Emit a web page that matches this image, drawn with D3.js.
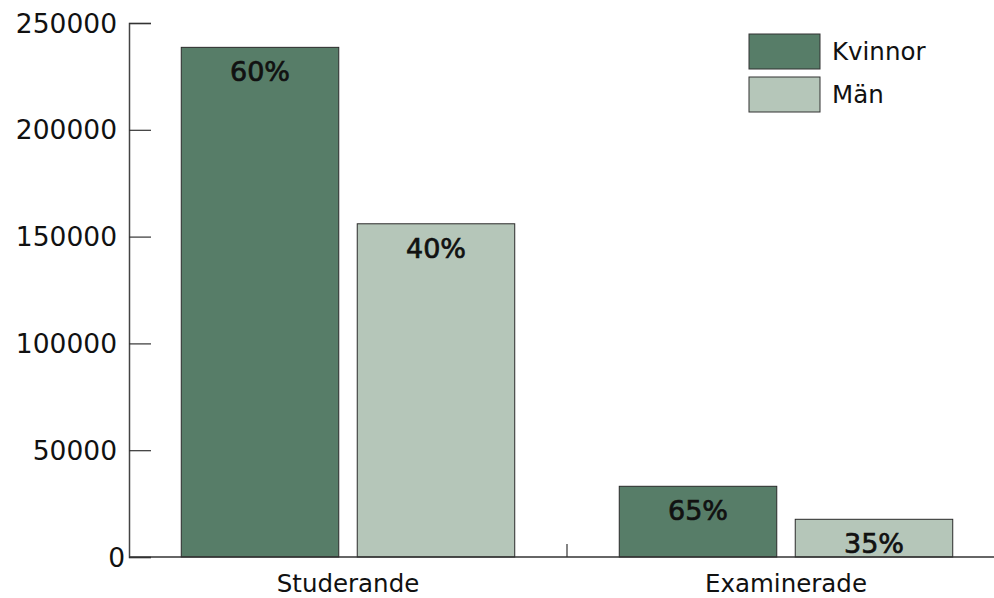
<!DOCTYPE html>
<html>
<head>
<meta charset="utf-8">
<script src="https://cdn.jsdelivr.net/npm/d3@7"></script>
<style>
  html, body { margin: 0; padding: 0; background: #fff; }
  svg text { font-family: "DejaVu Sans", sans-serif; }
</style>
</head>
<body>
<svg id="chart" width="994" height="598"></svg>
<script>
// Antal studerande och examinerade, fördelat på kön
const categories = ["Studerande", "Examinerade"];
const series = ["Kvinnor", "Män"];
const kvinnor = [238600, 33100];
const man = [156000, 17650];
const yTicks = [0, 50000, 100000, 150000, 200000, 250000];

const colors = { "Kvinnor": "#577d68", "Män": "#b5c6b9" };

const rows = categories.map((c, i) => ({
  category: c,
  values: [
    { key: "Kvinnor", value: kvinnor[i] },
    { key: "Män", value: man[i] }
  ]
}));

const svg = d3.select("#chart");
const axisX = 129, baseY = 557, topY = 23, rightX = 1005;

const x0 = d3.scaleBand().domain(categories).range([axisX, rightX]).padding(0);
const x1 = d3.scaleBand().domain(series).range([0, x0.bandwidth()])
  .paddingInner(0.105).paddingOuter(0.297);
const y = d3.scaleLinear().domain([0, 250000]).range([baseY, topY]);

// Y-axis with inward ticks
const yAxis = svg.append("g")
  .attr("transform", `translate(${axisX},0)`)
  .call(d3.axisRight(y).tickValues(yTicks).tickSize(22).tickFormat(""));
yAxis.select(".domain").attr("stroke", "#444").attr("stroke-width", 1.5);
yAxis.selectAll(".tick line").attr("stroke", "#333").attr("stroke-width", 1.2);

svg.append("g").selectAll("text")
  .data(yTicks)
  .join("text")
  .attr("x", d => d === 0 ? axisX - 4 : axisX - 12)
  .attr("y", d => y(d))
  .attr("dy", "0.36em")
  .attr("text-anchor", "end")
  .attr("font-size", 26.5)
  .attr("fill", "#111")
  .text(d => d);

// Bars
const groups = svg.append("g").selectAll("g")
  .data(rows)
  .join("g")
  .attr("transform", d => `translate(${x0(d.category)},0)`);

groups.selectAll("rect")
  .data(d => d.values)
  .join("rect")
  .attr("x", d => x1(d.key))
  .attr("y", d => y(d.value))
  .attr("width", x1.bandwidth())
  .attr("height", d => baseY - y(d.value))
  .attr("fill", d => colors[d.key])
  .attr("stroke", "#2a2a2a")
  .attr("stroke-width", 1);

// Share of each category shown inside the bars
groups.selectAll("text.pct")
  .data(d => {
    const total = d3.sum(d.values, v => v.value);
    return d.values.map(v => ({ ...v, pct: Math.round(100 * v.value / total) }));
  })
  .join("text")
  .attr("class", "pct")
  .attr("x", d => x1(d.key) + x1.bandwidth() / 2)
  .attr("y", d => y(d.value) + 34)
  .attr("text-anchor", "middle")
  .attr("font-size", 27)
  .attr("fill", "#111")
  .attr("stroke", "#111")
  .attr("stroke-width", 0.7)
  .text(d => d.pct + "%");

// X-axis baseline, category divider tick and labels
svg.append("line")
  .attr("x1", axisX).attr("x2", 994)
  .attr("y1", baseY).attr("y2", baseY)
  .attr("stroke", "#333").attr("stroke-width", 1.5);

svg.append("g").selectAll("line")
  .data(categories.slice(1))
  .join("line")
  .attr("x1", d => x0(d)).attr("x2", d => x0(d))
  .attr("y1", baseY).attr("y2", baseY - 13)
  .attr("stroke", "#333").attr("stroke-width", 1.2);

svg.append("g").selectAll("text")
  .data(categories)
  .join("text")
  .attr("x", d => x0(d) + x0.bandwidth() / 2)
  .attr("y", 592)
  .attr("text-anchor", "middle")
  .attr("font-size", 24.5)
  .attr("fill", "#111")
  .text(d => d);

// Legend
const legend = svg.append("g").attr("transform", "translate(749,34)");
const li = legend.selectAll("g")
  .data(series)
  .join("g")
  .attr("transform", (d, i) => `translate(0,${i * 43})`);
li.append("rect")
  .attr("width", 71).attr("height", 35)
  .attr("fill", d => colors[d])
  .attr("stroke", "#333").attr("stroke-width", 1);
li.append("text")
  .attr("x", 83).attr("y", 17.5)
  .attr("dy", "0.36em")
  .attr("font-size", 24.5)
  .attr("fill", "#111")
  .text(d => d);
</script>
</body>
</html>
